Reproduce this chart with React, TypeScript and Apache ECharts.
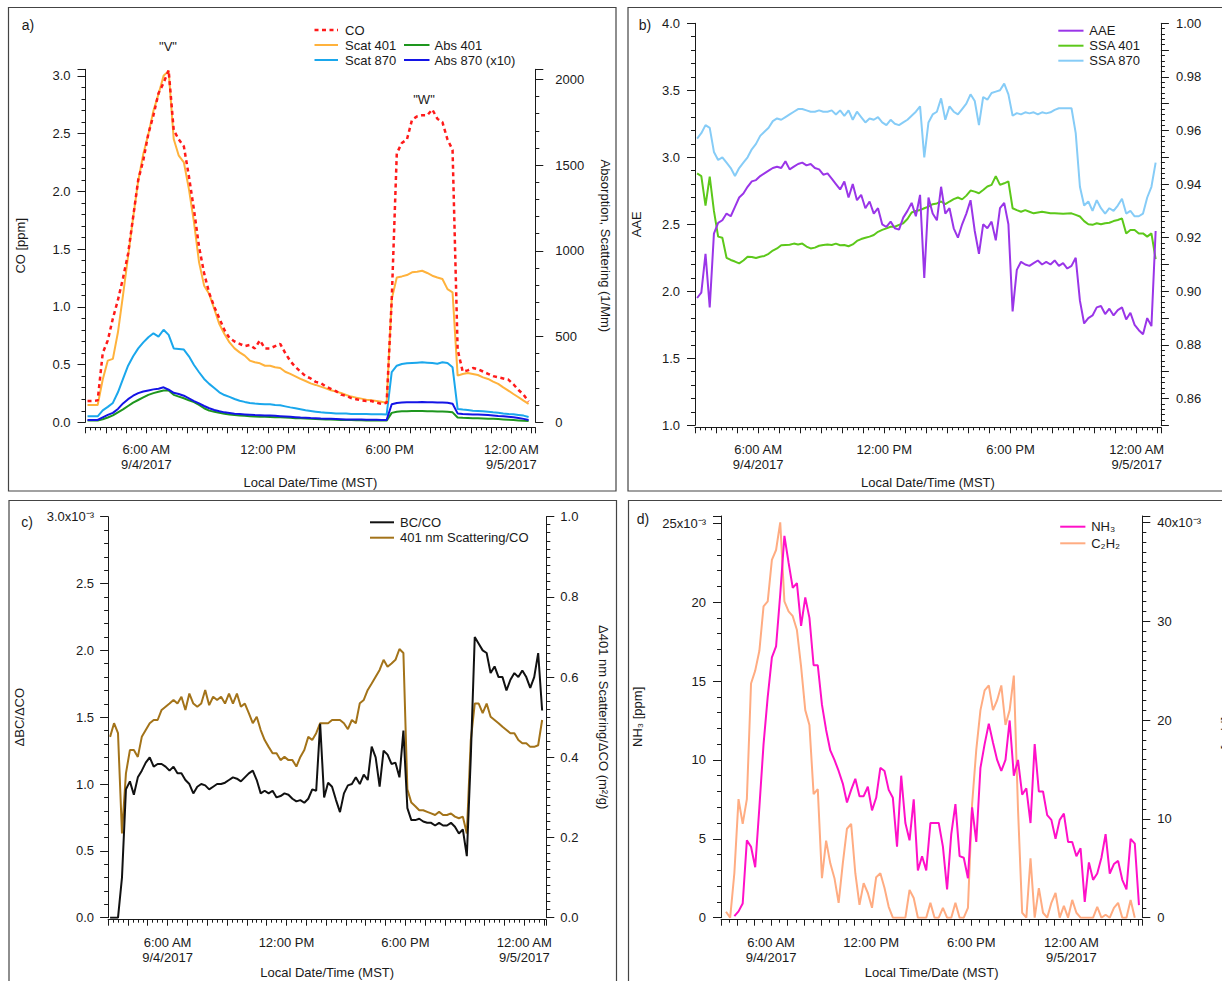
import React, { useEffect, useRef } from 'react';
import * as echarts from 'echarts';

const FONT = '"Liberation Sans", Arial, Helvetica, sans-serif';

// ---- Panel a) samples: hours since 00:00 9/4/2017, every 0.25 h from 03:06
const A_START = 3.1;
const A_STEP = 0.25;
const coA = [0.185,0.185,0.19,0.6,0.71,0.90,1.06,1.25,1.46,1.78,2.10,2.27,2.50,2.66,2.85,2.94,3.05,2.53,2.45,2.39,2.13,1.84,1.52,1.29,1.12,1.00,0.90,0.80,0.73,0.70,0.68,0.66,0.67,0.64,0.71,0.64,0.64,0.66,0.68,0.60,0.53,0.48,0.44,0.40,0.38,0.35,0.34,0.31,0.29,0.27,0.24,0.23,0.21,0.20,0.19,0.185,0.185,0.17,0.16,0.17,1.06,2.33,2.42,2.45,2.62,2.65,2.66,2.66,2.71,2.63,2.60,2.45,2.36,0.63,0.44,0.45,0.47,0.46,0.44,0.42,0.40,0.39,0.38,0.37,0.33,0.28,0.24,0.18];
const scat401A = [101,101,101,250,360,370,525,742,968,1195,1409,1565,1681,1817,1914,2021,2050,1652,1555,1516,1360,1166,933,797,748,661,573,515,466,431,408,389,360,350,344,330,330,321,317,295,282,268,253,241,227,218,208,198,187,179,171,159,150,144,138,132,128,124,120,113,719,845,851,859,875,878,884,871,855,845,836,777,758,272,282,288,282,276,262,253,237,224,204,185,165,146,126,107];
const scat870A = [35,35,35,70,90,113,175,253,330,385,431,466,496,519,500,540,510,431,428,424,385,334,292,253,224,200,175,159,148,136,126,119,113,109,107,105,105,101,99,93,87,82,76,70,66,62,58,56,54,52,51,51,49,49,49,49,47,47,47,45,292,330,340,344,346,348,350,348,346,342,350,346,321,78,74,72,68,66,64,62,58,56,52,49,47,43,39,31];
const abs401A = [10,10,10,18,28,40,58,75,95,115,130,145,160,170,178,185,186,160,150,140,128,118,102,82,68,62,56,50,46,43,40,38,36,34,33,32,31,30,29,28,26,24,23,22,20,19,18,17,16,15,14,13,13,12,12,11,11,10,10,10,55,62,64,65,66,66,66,65,64,63,63,62,58,28,26,25,24,23,22,21,20,19,17,15,13,11,9,8];
const abs870x10A = [14,14,14,29,43,55,78,110,135,155,170,180,186,192,196,204,190,172,165,155,140,124,110,95,82,72,64,58,54,50,48,46,44,42,41,40,39,38,36,34,32,30,28,27,25,24,22,21,20,19,18,17,17,16,16,15,15,15,14,14,105,113,115,117,117,117,118,117,117,116,115,114,108,52,48,47,46,45,44,42,40,37,35,32,29,25,20,14];

// ---- Panel b) every 0.2 h from 03:06
const B_START = 3.1;
const B_STEP = 0.2;
const aaeB = [1.95,1.99,2.28,1.88,2.43,2.51,2.53,2.58,2.56,2.63,2.70,2.73,2.78,2.82,2.83,2.86,2.88,2.90,2.92,2.93,2.92,2.97,2.91,2.93,2.95,2.96,2.94,2.95,2.92,2.91,2.87,2.88,2.84,2.80,2.76,2.82,2.70,2.80,2.68,2.72,2.62,2.67,2.58,2.62,2.50,2.48,2.52,2.47,2.46,2.55,2.60,2.66,2.56,2.72,2.10,2.70,2.58,2.53,2.78,2.58,2.62,2.47,2.40,2.50,2.58,2.68,2.45,2.28,2.50,2.47,2.52,2.38,2.62,2.66,2.50,1.85,2.16,2.22,2.20,2.19,2.21,2.23,2.20,2.22,2.20,2.23,2.19,2.21,2.17,2.19,2.25,1.93,1.76,1.80,1.82,1.88,1.89,1.83,1.87,1.82,1.86,1.88,1.79,1.84,1.75,1.71,1.68,1.80,1.74,2.45];
const ssa401B = [0.9440,0.9430,0.9320,0.9428,0.9300,0.9204,0.9200,0.9125,0.9117,0.9111,0.9104,0.9115,0.9129,0.9128,0.9124,0.9129,0.9132,0.9140,0.9152,0.9160,0.9172,0.9173,0.9174,0.9178,0.9175,0.9178,0.9167,0.9160,0.9163,0.9170,0.9173,0.9175,0.9173,0.9178,0.9172,0.9173,0.9168,0.9175,0.9188,0.9195,0.9200,0.9204,0.9210,0.9222,0.9229,0.9235,0.9241,0.9241,0.9248,0.9254,0.9270,0.9294,0.9300,0.9303,0.9310,0.9316,0.9325,0.9328,0.9335,0.9325,0.9335,0.9344,0.9350,0.9343,0.9357,0.9376,0.9372,0.9366,0.9378,0.9391,0.9397,0.9430,0.9397,0.9403,0.9410,0.9310,0.9303,0.9297,0.9303,0.9297,0.9291,0.9294,0.9297,0.9294,0.9291,0.9291,0.9290,0.9289,0.9290,0.9291,0.9285,0.9279,0.9262,0.9250,0.9248,0.9254,0.9250,0.9254,0.9256,0.9262,0.9266,0.9272,0.9216,0.9229,0.9229,0.9216,0.9216,0.9204,0.9216,0.9120];
const ssa870B = [0.957,0.959,0.962,0.961,0.952,0.949,0.950,0.948,0.946,0.943,0.946,0.948,0.950,0.953,0.955,0.958,0.9595,0.961,0.9635,0.9645,0.964,0.965,0.966,0.967,0.968,0.968,0.9675,0.967,0.967,0.9675,0.967,0.967,0.9675,0.966,0.9675,0.9655,0.9675,0.964,0.967,0.965,0.963,0.9645,0.964,0.965,0.963,0.962,0.964,0.9625,0.962,0.963,0.964,0.9655,0.967,0.969,0.950,0.963,0.966,0.967,0.972,0.964,0.969,0.967,0.966,0.968,0.970,0.9735,0.971,0.962,0.9725,0.9715,0.974,0.9745,0.975,0.9775,0.9735,0.9655,0.9665,0.966,0.9668,0.9664,0.9668,0.966,0.9668,0.9664,0.9668,0.9677,0.9683,0.9683,0.9683,0.9683,0.959,0.939,0.932,0.9335,0.930,0.934,0.931,0.929,0.931,0.930,0.932,0.9345,0.929,0.930,0.928,0.928,0.929,0.935,0.939,0.948];

// ---- Panel c) every 0.2 h from 03:06 (BC/CO in units of 1e-3)
const C_START = 3.1;
const C_STEP = 0.2;
const bcCoC = [0.0,0.0,0.0,0.30,0.96,1.02,0.92,1.05,1.10,1.16,1.20,1.13,1.15,1.15,1.13,1.10,1.13,1.08,1.08,1.03,1.00,0.93,0.98,1.00,0.99,0.96,0.98,1.00,1.00,1.01,1.03,1.05,1.04,1.02,1.05,1.08,1.10,1.03,0.93,0.95,0.93,0.95,0.90,0.91,0.93,0.92,0.89,0.87,0.88,0.86,0.89,0.96,0.95,1.45,0.90,1.01,0.98,0.88,0.79,0.93,0.99,1.00,1.05,1.00,1.07,1.03,1.28,1.20,0.98,1.25,1.22,1.15,1.16,1.05,1.40,0.82,0.73,0.73,0.74,0.72,0.71,0.71,0.69,0.71,0.69,0.69,0.71,0.68,0.63,0.66,0.46,1.20,2.10,2.05,2.00,1.98,1.83,1.88,1.80,1.80,1.70,1.78,1.83,1.80,1.85,1.80,1.72,1.80,1.98,1.55];
const scatCoC = [0.451,0.485,0.460,0.21,0.36,0.418,0.418,0.401,0.451,0.468,0.485,0.493,0.493,0.518,0.526,0.534,0.543,0.534,0.551,0.518,0.559,0.534,0.526,0.534,0.568,0.530,0.551,0.543,0.551,0.534,0.559,0.534,0.559,0.526,0.534,0.510,0.485,0.501,0.468,0.443,0.426,0.410,0.410,0.393,0.401,0.393,0.393,0.377,0.401,0.418,0.451,0.443,0.460,0.485,0.485,0.485,0.493,0.493,0.493,0.485,0.470,0.493,0.485,0.535,0.543,0.568,0.584,0.601,0.618,0.643,0.626,0.634,0.643,0.670,0.660,0.320,0.287,0.278,0.268,0.268,0.264,0.260,0.256,0.264,0.256,0.256,0.260,0.252,0.248,0.252,0.210,0.443,0.534,0.534,0.510,0.534,0.501,0.493,0.485,0.476,0.468,0.460,0.460,0.443,0.435,0.435,0.426,0.426,0.430,0.493];

// ---- Panel d) every 0.25 h from 03:18 (values in units of 1e-3 ppm)
const D_START = 3.3;
const D_STEP = 0.25;
const nh3D = [null,null,0.1,0.4,0.9,4.9,4.5,3.2,7.0,11.0,14.0,16.5,17.2,20.5,24.2,22.5,20.9,21.2,18.5,20.3,19.0,16.0,16.0,13.5,11.9,10.6,10.0,9.3,8.5,7.3,8.1,8.8,7.7,7.7,8.3,6.8,7.6,9.5,9.3,8.1,7.6,4.5,9.0,6.0,4.9,7.5,3.0,3.9,3.0,6.0,6.0,6.0,4.5,1.8,5.3,7.2,3.9,3.8,2.5,7.0,4.8,9.5,11.0,12.3,11.1,10.0,9.3,10.0,12.5,9.0,10.0,7.8,8.2,6.0,11.0,8.0,8.0,6.5,6.2,5.0,6.2,6.6,4.8,4.8,3.9,4.4,1.0,3.5,2.4,2.8,3.8,5.3,2.8,3.4,3.6,2.4,1.8,5.0,4.7,0.8];
const c2h2D = [0.6,0.0,4.5,12.0,9.5,12.0,23.7,25.0,27.0,31.5,32.0,36.2,37.2,40.0,32.0,31.0,30.5,29.1,25.4,21.0,19.5,12.5,13.0,4.0,7.8,5.5,4.0,1.5,5.5,9.0,9.5,4.5,1.3,3.5,2.5,1.0,4.1,4.5,3.0,1.1,0,0,0,0,2.8,2.0,0,0,0,1.5,0,0,1.0,0,0,1.5,0,0,1.0,11.5,17.0,21.0,23.0,23.5,21.0,22.0,23.5,19.5,21.0,24.5,11.0,0.5,0,6.0,0,3.0,0.5,0,1.5,2.5,0,1.2,0,1.8,0.5,0,0,0,0,1.1,0,0.3,0,1.0,1.5,0,0,1.8,0,null];

// ---- Tick labels
const xMajorLabels: Record<number, string> = { 6: '6:00 AM\n9/4/2017', 12: '12:00 PM', 18: '6:00 PM', 24: '12:00 AM\n9/5/2017' };

const isMult = (v: number, s: number) => Math.abs(v / s - Math.round(v / s)) < 1e-6;

// axis layout of the four panels (x axes tick every hour with 15/30-minute minor ticks)
const PANELS = [
  { grid: { left: 85.5, top: 69.3, width: 449.8, height: 353 }, xMin: 3, xMax: 25.18, xOff: 5, xSplit: 4, xNameGap: 49 },
  { grid: { left: 695.0, top: 23.3, width: 465.9, height: 402 }, xMin: 3, xMax: 25.15, xOff: 2, xSplit: 4, xNameGap: 49 },
  { grid: { left: 108.1, top: 516.7, width: 438.2, height: 401 }, xMin: 3, xMax: 25.11, xOff: 2, xSplit: 4, xNameGap: 46 },
  { grid: { left: 721.0, top: 516, width: 421.3, height: 401.7 }, xMin: 3, xMax: 28.25, xOff: 2, xSplit: 2, xNameGap: 46 },
];

function pts(start: number, step: number, arr: (number | null)[]) {
  return arr.map((v, i) => [+(start + i * step).toFixed(3), v]);
}

const AX = '#1a1a1a';
const TXT = '#1a1a1a';

function xAxisFor(gi: number, name: string) {
  const p = PANELS[gi];
  return {
    type: 'value', gridIndex: gi, min: p.xMin, max: p.xMax, interval: 1, position: 'bottom', offset: p.xOff,
    splitLine: { show: false },
    axisLine: { show: true, onZero: false, lineStyle: { color: AX, width: 1 } },
    axisTick: { show: true, length: 6, lineStyle: { color: AX, width: 1 } },
    minorTick: { show: true, splitNumber: p.xSplit, length: 3, lineStyle: { color: AX, width: 1 } },
    axisLabel: {
      show: true, margin: 15, fontSize: 13, lineHeight: 15, color: TXT, fontFamily: FONT,
      formatter: (v: number) => (isMult(v, 1) ? xMajorLabels[Math.round(v)] || '' : ''),
    },
    name, nameLocation: 'middle', nameGap: p.xNameGap,
    nameTextStyle: { fontSize: 13, color: TXT, fontFamily: FONT },
  };
}

function yAxisFor(gi: number, side: 'left' | 'right', min: number, max: number, interval: number, split: number,
  fmt: (v: number) => string, margin: number, name: string, nameGap: number, nameRotate: number) {
  return {
    type: 'value', gridIndex: gi, position: side, min, max, interval, splitLine: { show: false },
    axisLine: { show: true, onZero: false, lineStyle: { color: AX, width: 1 } },
    axisTick: { show: true, length: 8, lineStyle: { color: AX, width: 1 } },
    minorTick: { show: true, splitNumber: split, length: 4, lineStyle: { color: AX, width: 1 } },
    axisLabel: { show: true, formatter: fmt, margin, fontSize: 13, color: TXT, fontFamily: FONT },
    name, nameLocation: 'middle', nameGap, nameRotate,
    nameTextStyle: { fontSize: 13, color: TXT, fontFamily: FONT },
  };
}

function line(name: string, data: any[], xi: number, yi: number, color: string, width = 2, type: any = 'solid') {
  return {
    type: 'line', name, data, xAxisIndex: xi, yAxisIndex: yi, showSymbol: false, symbol: 'none',
    lineStyle: { color, width, type }, itemStyle: { color }, connectNulls: false,
  };
}

function legendItem(x1: number, x2: number, y: number, color: string, label: string, tx: number, width = 2, dash?: number[]) {
  return [
    { type: 'line', shape: { x1, y1: y, x2, y2: y }, style: { stroke: color, lineWidth: width, lineDash: dash } },
    { type: 'text', x: tx, y, style: { text: label, fill: TXT, fontSize: 13, fontFamily: FONT, verticalAlign: 'middle', align: 'left' } },
  ];
}

function txt(x: number, y: number, text: string, size = 13, align = 'center') {
  return { type: 'text', x, y, style: { text, fill: TXT, fontSize: size, fontFamily: FONT, verticalAlign: 'middle', align } };
}

function box(x: number, y: number, w: number, h: number) {
  return { type: 'rect', shape: { x, y, width: w, height: h }, style: { fill: 'none', stroke: '#444', lineWidth: 1.2 } };
}

const C = {
  co: '#FF1A1A', scat401: '#FFB23C', scat870: '#1AA7EC', abs401: '#1E961E', abs870: '#1414E6',
  aae: '#9A35E8', ssa401: '#5CC81A', ssa870: '#86CCF7',
  bc: '#111111', scatco: '#A37319', nh3: '#FF10C8', c2h2: '#FFAC82',
};

function staticElements() {
  return [
    box(8.5, 7.5, 607.5, 483.5),
    box(628, 7.5, 610, 483.5),
    box(9, 500.5, 607.5, 500),
    box(628.5, 500.5, 610, 500),
    txt(28, 25, 'a)', 14),
    txt(645, 25, 'b)', 14),
    txt(27, 522, 'c)', 14),
    txt(643, 519, 'd)', 14),
    txt(168, 46, '"V"', 13),
    txt(424, 99, '"W"', 13),
    ...legendItem(314.5, 338, 30, C.co, 'CO', 345, 2.5, [4, 3.5]),
    ...legendItem(314.5, 338, 45, C.scat401, 'Scat 401', 345),
    ...legendItem(314.5, 338, 60, C.scat870, 'Scat 870', 345),
    ...legendItem(404, 429.5, 45, C.abs401, 'Abs 401', 434.5),
    ...legendItem(404, 429.5, 60, C.abs870, 'Abs 870 (x10)', 434.5),
    ...legendItem(1058.3, 1083.5, 30.7, C.aae, 'AAE', 1089.3),
    ...legendItem(1058.3, 1083.5, 45.7, C.ssa401, 'SSA 401', 1089.3),
    ...legendItem(1058.3, 1083.5, 60.7, C.ssa870, 'SSA 870', 1089.3),
    ...legendItem(370, 394, 522.3, C.bc, 'BC/CO', 400),
    ...legendItem(370, 394, 537.7, C.scatco, '401 nm Scattering/CO', 400),
    ...legendItem(1060.2, 1085.4, 526.7, C.nh3, 'NH₃', 1091.2),
    ...legendItem(1060.2, 1085.4, 543.3, C.c2h2, 'C₂H₂', 1091.2),
  ];
}

function buildOption() {
  const grid = PANELS.map((p) => ({ ...p.grid, containLabel: false, outerBoundsMode: 'none' }));
  const xAxis = [
    xAxisFor(0, 'Local Date/Time (MST)'),
    xAxisFor(1, 'Local Date/Time (MST)'),
    xAxisFor(2, 'Local Date/Time (MST)'),
    xAxisFor(3, 'Local Time/Date (MST)'),
  ];
  const yAxis = [
    yAxisFor(0, 'left', 0, 3.058, 0.5, 5, (v) => (isMult(v, 0.5) ? v.toFixed(1) : ''), 15, 'CO [ppm]', 59, 90),
    yAxisFor(0, 'right', 0, 2059, 500, 5, (v) => (isMult(v, 500) ? String(Math.round(v)) : ''), 20, 'Absorption, Scattering (1/Mm)', 64, -90),
    yAxisFor(1, 'left', 1, 4, 0.5, 5, (v) => (isMult(v, 0.5) ? v.toFixed(1) : ''), 15, 'AAE', 52, 90),
    yAxisFor(1, 'right', 0.85, 1.0, 0.01, 5, (v) => (v > 0.855 && isMult(v, 0.02) ? v.toFixed(2) : ''), 15, 'SSA', 70, -90),
    yAxisFor(2, 'left', 0, 3, 0.5, 5, (v) => (isMult(v, 0.5) ? (Math.abs(v - 3) < 1e-6 ? '3.0x10⁻³' : v.toFixed(1)) : ''), 14, 'ΔBC/ΔCO', 82, 90),
    yAxisFor(2, 'right', 0, 1, 0.2, 10, (v) => (isMult(v, 0.2) ? v.toFixed(1) : ''), 14, 'Δ401 nm Scattering/ΔCO (m²/g)', 51, -90),
    yAxisFor(3, 'left', 0, 25.46, 5, 5, (v) => (isMult(v, 5) ? (Math.round(v) === 25 ? '25x10⁻³' : String(Math.round(v))) : ''), 15, 'NH₃ [ppm]', 77, 90),
    yAxisFor(3, 'right', 0, 40.64, 10, 10, (v) => (isMult(v, 10) ? (Math.round(v) === 40 ? '40x10⁻³' : String(Math.round(v))) : ''), 15, 'C₂H₂ [ppm]', 80, -90),
  ];
  const series = [
    line('Scat 870', pts(A_START, A_STEP, scat870A), 0, 1, C.scat870),
    line('Abs 401', pts(A_START, A_STEP, abs401A), 0, 1, C.abs401),
    line('Abs 870 (x10)', pts(A_START, A_STEP, abs870x10A), 0, 1, C.abs870),
    line('Scat 401', pts(A_START, A_STEP, scat401A), 0, 1, C.scat401),
    line('CO', pts(A_START, A_STEP, coA), 0, 0, C.co, 2.5, [4, 3.5]),

    line('SSA 870', pts(B_START, B_STEP, ssa870B), 1, 3, C.ssa870),
    line('SSA 401', pts(B_START, B_STEP, ssa401B), 1, 3, C.ssa401),
    line('AAE', pts(B_START, B_STEP, aaeB), 1, 2, C.aae),

    line('401 nm Scattering/CO', pts(C_START, C_STEP, scatCoC), 2, 5, C.scatco),
    line('BC/CO', pts(C_START, C_STEP, bcCoC), 2, 4, C.bc),

    line('C2H2', pts(D_START, D_STEP, c2h2D), 3, 7, C.c2h2),
    line('NH3', pts(D_START, D_STEP, nh3D), 3, 6, C.nh3),
  ];
  return {
    animation: false,
    grid,
    xAxis,
    yAxis,
    series,
    graphic: { elements: staticElements() },
  };
}

export default function App() {
  const ref = useRef<HTMLDivElement>(null);
  useEffect(() => {
    if (!ref.current) return;
    const chart = echarts.init(ref.current, undefined, { renderer: 'svg' });
    chart.setOption(buildOption() as any);
    return () => chart.dispose();
  }, []);
  return (
    <div
      ref={ref}
      style={{ position: 'absolute', left: 0, top: 0, width: 1222, height: 981, background: '#fff' }}
    />
  );
}
